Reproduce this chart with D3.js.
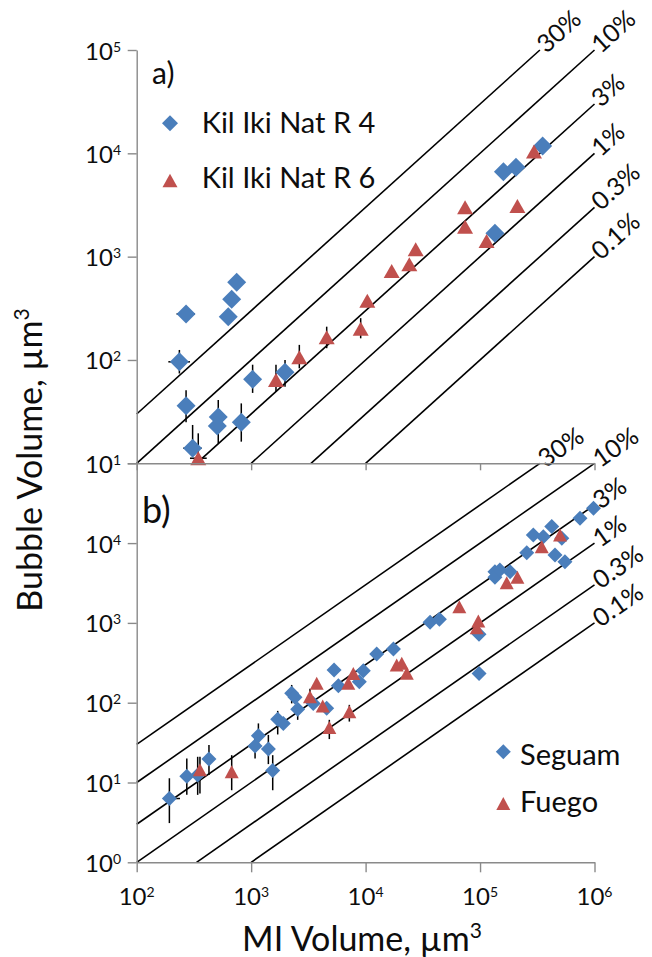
<!DOCTYPE html>
<html><head><meta charset="utf-8">
<script src="https://cdn.jsdelivr.net/npm/d3@7"></script>
<style>
body{margin:0;background:#fff}
svg text{font-family:Lato,"Open Sans",sans-serif;fill:#0d0d0d}
</style>
</head><body>
<svg id="c" width="652" height="957"></svg>
<script>
// ---------- data ----------
const xTickValues = [1e2, 1e3, 1e4, 1e5, 1e6];
const topYTickValues = [1e1, 1e2, 1e3, 1e4, 1e5];
const botYTickValues = [1e0, 1e1, 1e2, 1e3, 1e4];
const ratioValues = [0.3, 0.1, 0.03, 0.01, 0.003, 0.001];
const ratioLabels = ["30%", "10%", "3%", "1%", "0.3%", "0.1%"];

// panel a) Kil Iki Nat R 4 (blue diamonds)
const kil4Name = "Kil Iki Nat R 4";
const kil4X = [270, 236, 270, 308, 516, 506, 820, 631, 676, 748, 1030, 1977, 135000, 160000, 206000, 352000];
const kil4Y = [279, 96, 36, 14, 28, 23, 25, 262, 387, 565, 65, 76, 1680, 6650, 7330, 11800];
// [index, yLow, yHigh, xLow, xHigh]
const kil4Err = [[0, null, null, 223, 323], [1, 74, 125, 189, 292], [2, 25, 51, null, null],
  [3, 12.5, 23.5, 255, 370], [4, 15.6, 41, null, null], [6, 16.2, 38, null, null],
  [10, 48, 90, null, null], [11, 55, 100, null, null]];

// panel a) Kil Iki Nat R 6 (red triangles)
const kil6Name = "Kil Iki Nat R 6";
const kil6X = [345, 1648, 2636, 4571, 9057, 10350, 16900, 24100, 27400, 74000, 74000, 114000, 212000, 296000];
const kil6Y = [11.2, 64, 106, 166, 200, 375, 728, 844, 1180, 1950, 3006, 1420, 3100, 10400];
const kil6Err = [[0, 10, 19.5, 292, 409], [1, 49, 90, null, null], [2, 83, 140, null, null],
  [3, 130, 210, null, null], [4, 162, 254, null, null]];

// panel b) Seguam (blue diamonds)
const seguamName = "Seguam";
const seguamX = [193, 274, 341, 428, 1082, 1157, 1414, 1543, 1706, 1909, 2260, 2415, 2550, 3490, 4570, 5300, 5780,
  8810, 9550, 12500, 17500, 36600, 44100, 97900, 98000, 135000, 135000, 149000, 183000, 256000, 292000, 357000,
  423000, 452000, 518000, 552000, 747000, 980000];
const seguamY = [6.3, 12, 12.4, 19.7, 28.7, 38.6, 26.3, 14.1, 62, 55, 131, 117, 82.6, 98, 85, 257, 163,
  183, 252, 408, 471, 1018, 1110, 720, 233, 4390, 3730, 4600, 4385, 7580, 12600, 12000,
  16100, 7100, 11500, 5850, 20500, 27300];
const seguamErr = [[0, 3.1, 11.3, 171, 239], [1, 7, 20, null, null], [2, 7, 21, null, null],
  [3, 12.4, 29.5, null, null], [4, 20, 40, null, null], [5, 27, 55, null, null], [6, 17, 39.5, null, null],
  [7, 8, 22, null, null], [8, 40, 79, null, null], [10, 98, 167, null, null], [12, 61, 94, null, null]];

// panel b) Fuego (red triangles)
const fuegoName = "Fuego";
const fuegoX = [357, 676, 3265, 3740, 4220, 4820, 7060, 7810, 7210, 18700, 20700, 22900, 65900, 96600, 93500,
  171000, 212000, 346000, 500000];
const fuegoY = [14.4, 13.6, 119, 175, 91, 49, 175, 233, 77, 297, 312, 234, 1596, 1056, 871,
  3190, 3730, 9020, 12600];
const fuegoErr = [[0, 7.3, 21, null, null], [1, 8, 22, null, null], [2, 95, 150, null, null],
  [5, 35, 61, null, null], [8, 58, 94, null, null]];

// ---------- drawing ----------
const BLUE = "#4a7ebb", RED = "#c0504d", AXIS = "#8a8a8a";
const svg = d3.select("#c");
const x = d3.scaleLog().domain([1e2, 1e6]).range([136.7, 594.5]);
const yA = d3.scaleLog().domain([1e1, 1e5]).range([463.3, 50]);
const yB = d3.scaleLog().domain([1e0, 1e5]).range([862.3, 463.3]);

const diamond = r => `M0,${-r}L${r},0L0,${r}L${-r},0Z`;
const triangle = (w, h) => `M0,${-h / 2}L${w / 2},${h / 2}L${-w / 2},${h / 2}Z`;

function supLabel(sel, base, exp, supSize, supDy) {
  sel.append("tspan").text(base);
  sel.append("tspan").attr("font-size", supSize).attr("dy", supDy).text(exp);
}

function ratioLines(g, y, labelSize) {
  const [ymin, ymax] = y.domain(), [xmin, xmax] = x.domain();
  ratioValues.forEach((r, i) => {
    const xs = Math.max(xmin, ymin / r), xe = Math.min(xmax, ymax / r);
    const p0 = [x(xs), y(xs * r)], p1 = [x(xe), y(xe * r)];
    g.append("line").attr("x1", p0[0]).attr("y1", p0[1]).attr("x2", p1[0]).attr("y2", p1[1])
      .attr("stroke", "#000").attr("stroke-width", 1.6);
    const ang = Math.atan2(p1[1] - p0[1], p1[0] - p0[0]) * 180 / Math.PI;
    g.append("text").attr("transform", `translate(${p1[0]},${p1[1]}) rotate(${ang})`)
      .attr("dx", 2).attr("dy", "0.3em").attr("font-size", labelSize).text(ratioLabels[i]);
  });
}

function errorBars(g, y, xs, ys, errs) {
  errs.forEach(([i, yl, yh, xl, xh]) => {
    if (yl != null) g.append("line").attr("x1", x(xs[i])).attr("x2", x(xs[i]))
      .attr("y1", y(Math.max(yl, y.domain()[0]))).attr("y2", y(yh)).attr("stroke", "#000").attr("stroke-width", 1.5);
    if (xl != null) g.append("line").attr("y1", y(ys[i])).attr("y2", y(ys[i]))
      .attr("x1", x(xl)).attr("x2", x(xh)).attr("stroke", "#000").attr("stroke-width", 1.5);
  });
}

function markers(g, y, xs, ys, path, color) {
  g.selectAll(null).data(xs.map((v, i) => [v, ys[i]])).join("path")
    .attr("d", path).attr("fill", color)
    .attr("transform", d => `translate(${x(d[0])},${y(d[1])})`);
}

function yAxis(y, ticks, labelTicks) {
  const g = svg.append("g").attr("transform", "translate(136.7,0)");
  g.call(d3.axisLeft(y).tickValues(ticks).tickSize(9).tickSizeOuter(0).tickFormat(""));
  g.selectAll("path,line").attr("stroke", AXIS).attr("stroke-width", 1.4);
  labelTicks.forEach(v => {
    const t = svg.append("text").attr("x", 121).attr("y", y(v) + 9.5).attr("text-anchor", "end").attr("font-size", 24);
    supLabel(t, "10", String(Math.round(Math.log10(v))), 14, -8);
  });
}

function xAxis(yPos, tickLen, withLabels) {
  const g = svg.append("g").attr("transform", `translate(0,${yPos})`);
  g.call(d3.axisBottom(x).tickValues(xTickValues).tickSize(tickLen).tickSizeOuter(0).tickFormat(""));
  g.selectAll("path,line").attr("stroke", AXIS).attr("stroke-width", 1.4);
  if (withLabels) xTickValues.forEach(v => {
    const t = svg.append("text").attr("x", x(v)).attr("y", yPos + 43).attr("text-anchor", "middle").attr("font-size", 24);
    supLabel(t, "10", String(Math.round(Math.log10(v))), 14, -8);
  });
}

// panel a
const gA = svg.append("g");
ratioLines(gA, yA, 25);
errorBars(gA, yA, kil4X, kil4Y, kil4Err);
errorBars(gA, yA, kil6X, kil6Y, kil6Err);
markers(gA, yA, kil4X, kil4Y, diamond(9.5), BLUE);
markers(gA, yA, kil6X, kil6Y, triangle(16, 14), RED);

// panel b
const gB = svg.append("g");
ratioLines(gB, yB, 25);
errorBars(gB, yB, seguamX, seguamY, seguamErr);
errorBars(gB, yB, fuegoX, fuegoY, fuegoErr);
markers(gB, yB, seguamX, seguamY, diamond(7.5), BLUE);
markers(gB, yB, fuegoX, fuegoY, triangle(14, 13), RED);

// axes
yAxis(yA, topYTickValues, topYTickValues);
yAxis(yB, botYTickValues.concat([1e5]), botYTickValues);
xAxis(463.3, 7, false);
xAxis(862.3, 10, true);

// panel tags
svg.append("text").attr("x", 152).attr("y", 84).attr("font-size", 30).text("a)");
svg.append("text").attr("x", 142).attr("y", 523).attr("font-size", 36).text("b)");

// legends
function legendItem(mx, my, path, color, tx, ty, label) {
  svg.append("path").attr("d", path).attr("fill", color).attr("transform", `translate(${mx},${my})`);
  svg.append("text").attr("x", tx).attr("y", ty).attr("font-size", 29).text(label);
}
legendItem(170, 123.3, diamond(8), BLUE, 201.7, 133.3, kil4Name);
legendItem(170, 180.5, triangle(15, 13.5), RED, 201.7, 188.3, kil6Name);
legendItem(503.3, 751.7, diamond(7.5), BLUE, 520, 765, seguamName);
legendItem(503.3, 803.5, triangle(14, 13), RED, 520, 811.7, fuegoName);

// axis titles
const tx = svg.append("text").attr("x", 362).attr("y", 951).attr("text-anchor", "middle").attr("font-size", 34);
supLabel(tx, "MI Volume, µm", "3", 21, -13);
const ty = svg.append("text").attr("transform", "translate(42,460) rotate(-90)").attr("text-anchor", "middle").attr("font-size", 34);
supLabel(ty, "Bubble Volume, µm", "3", 21, -13);
</script>
</body></html>
